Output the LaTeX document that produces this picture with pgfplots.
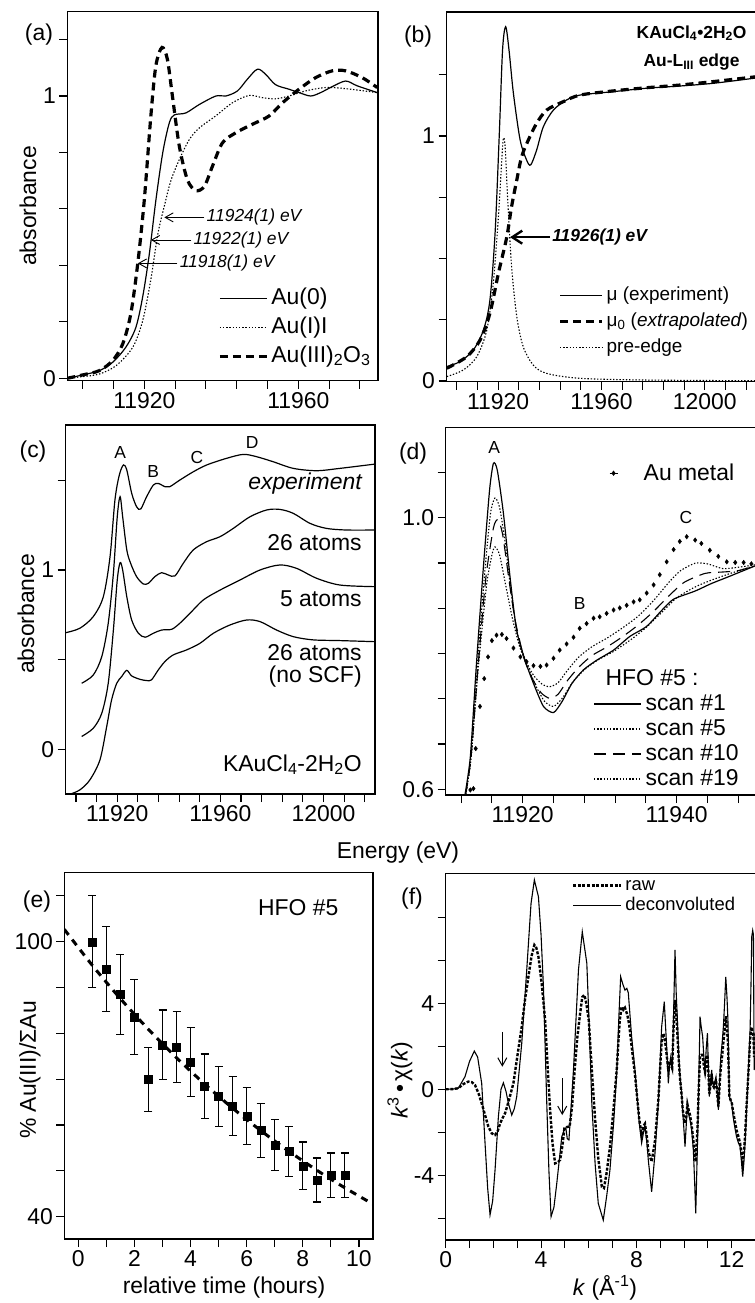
\documentclass[border=0pt]{standalone}
\usepackage{fontspec}
\setmainfont{Liberation Sans}
\usepackage{pgfplots}
\pgfplotsset{compat=1.18}
\usetikzlibrary{arrows.meta}
\newcommand\fA{\fontsize{23}{26}\selectfont}
\newcommand\fB{\fontsize{19}{22}\selectfont}
\newcommand\fC{\fontsize{17.5}{20}\selectfont}
\pgfplotsset{
 panel/.style={scale only axis, clip mode=individual, anchor=north west,
   scaled x ticks=false, scaled y ticks=false,
   axis line style={line width=1.2bp},
   tick pos=left, tick align=outside,
   major tick length=8bp, minor tick length=8bp,
   tick style={black, line width=1.1bp},
   minor tick style={black, line width=1.1bp},
   tick label style={font=\fA},
   legend cell align=left},
 sol/.style={black, line width=1.2bp},
 dotl/.style={black, line width=1.1bp, dash pattern=on 1.4bp off 1.8bp},
 thd/.style={black, line width=3.2bp, dash pattern=on 8bp off 5bp},
 limg/.style={legend image code/.code={\draw[##1] (0bp,0bp) -- (#1,0bp);}},
}
\begin{document}
\begin{tikzpicture}
\useasboundingbox (0,0) rectangle (755bp,-1303bp);
% ---------------- (a)
\begin{axis}[panel, at={(67.3bp,-11.7bp)}, width=310.7bp, height=368.8bp,
 xmin=11900, xmax=11980.7, ymin=-0.0078, ymax=1.2986,
 xtick={11920,11960}, xticklabels={11920,11960},
 minor xtick={11904,11912,11928,11936,11944,11952,11968,11976},
 ytick={0,1}, yticklabels={0,1}, minor ytick={0.2,0.4,0.6,0.8,1.2},
 limg=47bp,
 legend style={at={(0.485,0.254)}, anchor=north west, draw=none, fill=none, font=\fA,
   inner sep=0pt, row sep=6bp, column sep=3bp, nodes={inner sep=0bp, text height=17bp, text depth=6bp}}]
\addplot[sol, smooth] coordinates {(11900,0) (11904,0.012) (11908.3,0.027) (11911.8,0.057) (11915.2,0.11) (11917.8,0.18) (11919.6,0.29) (11921.3,0.44) (11923.0,0.63) (11924.8,0.80) (11926.5,0.905) (11927.8,0.933) (11930.8,0.94) (11934.3,0.97) (11938.6,1.0) (11941.2,1.0) (11944.2,1.018) (11946.8,1.06) (11949.4,1.095) (11951.5,1.077) (11954.1,1.04) (11957.6,1.024) (11960.2,1.012) (11963.2,1.0) (11965.8,1.012) (11968.8,1.033) (11972.3,1.053) (11975.3,1.036) (11980.5,1.012)};
\addlegendentry{Au(0)}
\addplot[dotl, smooth] coordinates {(11900,0) (11904,0.006) (11908.3,0.015) (11912.7,0.045) (11917.0,0.11) (11919.6,0.205) (11921.7,0.35) (11923.5,0.51) (11925.2,0.61) (11926.9,0.70) (11929.1,0.775) (11931.7,0.846) (11934.3,0.887) (11938.6,0.93) (11942.9,0.976) (11947.2,1.002) (11950.7,0.994) (11954.1,0.99) (11957.6,1.0) (11961.9,1.018) (11967.1,1.03) (11972.3,1.026) (11980.5,1.012)};
\addlegendentry{Au(I)I}
\addplot[thd, smooth] coordinates {(11900,0) (11904,0.012) (11908.3,0.027) (11911.8,0.063) (11914.4,0.122) (11916.5,0.229) (11918.3,0.407) (11920.0,0.632) (11921.7,0.929) (11923.0,1.107) (11924.6,1.172) (11926.0,1.13) (11927.3,1.0) (11929.1,0.822) (11931.2,0.703) (11933.4,0.665) (11935.6,0.68) (11937.7,0.751) (11940.3,0.834) (11943.8,0.87) (11948.1,0.90) (11952.4,0.929) (11955.9,0.976) (11960.2,1.024) (11964.5,1.065) (11968.8,1.089) (11972.3,1.089) (11976.6,1.065) (11980.5,1.03)};
\addlegendentry{Au(III)\textsubscript{2}O\textsubscript{3}}
\draw[line width=0.9bp, -{Straight Barb[length=8bp,width=9bp]}] (axis cs:11935.6,0.570) -- (axis cs:11925.2,0.570);
\node[anchor=west, font=\fC\itshape, inner sep=1bp] at (axis cs:11935.9,0.570) {11924(1) eV};
\draw[line width=0.9bp, -{Straight Barb[length=8bp,width=9bp]}] (axis cs:11932.2,0.49) -- (axis cs:11921.7,0.49);
\node[anchor=west, font=\fC\itshape, inner sep=1bp] at (axis cs:11932.5,0.49) {11922(1) eV};
\draw[line width=0.9bp, -{Straight Barb[length=8bp,width=9bp]}] (axis cs:11928.6,0.407) -- (axis cs:11918.3,0.407);
\node[anchor=west, font=\fC\itshape, inner sep=1bp] at (axis cs:11928.9,0.407) {11918(1) eV};
\end{axis}
% ---------------- (b)
\begin{axis}[panel, at={(446.5bp,-12bp)}, width=310.5bp, height=369.5bp,
 xmin=11900, xmax=12020.2, ymin=-0.002, ymax=1.506,
 xtick={11920,11960,12000}, xticklabels={11920,11960,12000},
 minor xtick={11904,11912,11928,11936,11944,11952,11968,11976,11984,11992,12008,12016},
 ytick={0,1}, yticklabels={0,1}, minor ytick={0.25,0.5,0.75,1.25},
 limg=42bp,
 legend style={at={(0.36,0.259)}, anchor=north west, draw=none, fill=none, font=\fB,
   inner sep=0pt, row sep=7bp, column sep=3bp, nodes={inner sep=0bp, text height=14bp, text depth=5bp}}]
\addplot[sol, smooth] coordinates {(11900.1,0.059) (11905.2,0.079) (11910.4,0.127) (11914.3,0.208) (11916.8,0.33) (11918.8,0.603) (11920.45,1.011) (11921.7,1.351) (11922.9,1.446) (11924.2,1.351) (11925.9,1.174) (11928.5,0.984) (11931.0,0.902) (11932.6,0.882) (11934.9,0.943) (11937.5,1.038) (11941.4,1.106) (11946.5,1.147) (11951.7,1.167) (11964.6,1.181) (11977.5,1.195) (11990.4,1.204) (12003.3,1.215) (12020,1.237)};
\addlegendentry{μ (experiment)}
\addplot[thd, smooth] coordinates {(11900.1,0.052) (11907.8,0.099) (11913.0,0.167) (11916.8,0.276) (11920.1,0.44) (11923.3,0.586) (11925.2,0.712) (11927.2,0.82) (11929.1,0.916) (11931.7,0.984) (11934.9,1.052) (11938.8,1.106) (11945.2,1.14) (11951.7,1.167) (11964.6,1.184) (11977.5,1.197) (11990.4,1.208) (12003.3,1.222) (12020,1.242)};
\addlegendentry{μ\textsubscript{0} (\textit{extrapolated})}
\addplot[dotl, smooth] coordinates {(11900.1,0.018) (11906.5,0.045) (11911.7,0.099) (11915.6,0.208) (11918.1,0.399) (11920.1,0.671) (11921.4,0.902) (11922.0,0.99) (11922.7,0.956) (11923.7,0.739) (11925.2,0.467) (11927.2,0.263) (11929.7,0.14) (11933.6,0.065) (11938.8,0.031) (11951.7,0.011) (11977.5,0.004) (12020,0.001)};
\addlegendentry{pre-edge}
\draw[line width=2.4bp, -{Straight Barb[length=10bp,width=13bp]}] (axis cs:11940.1,0.587) -- (axis cs:11924.6,0.587);
\node[anchor=west, font=\fC\bfseries\itshape, inner sep=1bp] at (axis cs:11940.5,0.587) {11926(1) eV};
\end{axis}
% ---------------- (c)
\begin{axis}[panel, at={(65.7bp,-425bp)}, width=309.3bp, height=369bp,
 xmin=11900, xmax=12020, ymin=-0.25, ymax=1.809,
 xtick={11920,11960,12000}, xticklabels={11920,11960,12000},
 minor xtick={11904,11912,11928,11936,11944,11952,11968,11976,11984,11992,12008,12016},
 ytick={0,1}, yticklabels={0,1}, minor ytick={0.5,1.5}]
\addplot[sol, smooth] coordinates {(11900.0,0.65) (11905.5,0.675) (11910.7,0.74) (11914.6,0.851) (11917.2,1.074) (11919.1,1.39) (11920.8,1.53) (11922.4,1.586) (11923.7,1.558) (11925.6,1.428) (11927.5,1.353) (11929.1,1.34) (11931.4,1.409) (11934.0,1.474) (11935.9,1.483) (11938.5,1.465) (11940.4,1.465) (11944.3,1.502) (11949.5,1.548) (11954.7,1.586) (11962.4,1.623) (11968.9,1.645) (11974.1,1.632) (11980.5,1.604) (11988.3,1.567) (11997.3,1.554) (12006.4,1.567) (12020.0,1.591)};
\addplot[sol, smooth] coordinates {(11906.2,0.368) (11910.7,0.414) (11914.0,0.517) (11916.5,0.703) (11918.5,0.981) (11920.0,1.297) (11921.1,1.409) (11922.1,1.297) (11923.7,1.112) (11925.2,1.037) (11927.5,0.963) (11930.1,0.922) (11932.1,0.926) (11934.6,0.963) (11937.2,0.985) (11939.8,0.972) (11942.4,0.967) (11945.6,1.037) (11949.5,1.112) (11954.7,1.158) (11959.9,1.186) (11965.0,1.232) (11971.5,1.297) (11978.0,1.335) (11983.1,1.338) (11988.3,1.316) (11994.8,1.26) (12001.2,1.232) (12009.0,1.223) (12020.0,1.223)};
\addplot[sol, smooth] coordinates {(11906.2,0.071) (11910.7,0.117) (11914.0,0.201) (11916.5,0.368) (11918.5,0.665) (11920.0,0.944) (11921.1,1.041) (11922.1,1.0) (11923.7,0.851) (11925.6,0.721) (11928.2,0.647) (11930.8,0.625) (11934.0,0.647) (11937.2,0.665) (11941.1,0.669) (11944.3,0.703) (11948.2,0.758) (11953.4,0.833) (11959.9,0.888) (11967.6,0.944) (11975.4,1.0) (11983.1,1.028) (11989.6,1.009) (11997.3,0.954) (12006.4,0.916) (12020.0,0.907)};
\addplot[sol, smooth] coordinates {(11901.7,-0.251) (11905.5,-0.227) (11909.4,-0.171) (11913.3,-0.059) (11915.9,0.126) (11917.8,0.275) (11919.8,0.368) (11921.7,0.405) (11923.7,0.44) (11925.6,0.409) (11928.8,0.390) (11931.4,0.383) (11933.3,0.387) (11935.9,0.442) (11938.5,0.489) (11941.7,0.526) (11946.9,0.554) (11952.1,0.591) (11957.3,0.647) (11963.7,0.693) (11970.2,0.721) (11975.4,0.712) (11981.8,0.665) (11988.3,0.628) (11996.0,0.61) (12006.4,0.606) (12020.0,0.6)};
\node[font=\fC] at (axis cs:11921.1,1.657) {A};
\node[font=\fC] at (axis cs:11933.9,1.547) {B};
\node[font=\fC] at (axis cs:11950.9,1.625) {C};
\node[font=\fC] at (axis cs:11972.3,1.709) {D};
\node[anchor=east, font=\fA\itshape, inner sep=0pt] at (axis cs:12014.9,1.48) {experiment};
\node[anchor=east, font=\fA, inner sep=0pt] at (axis cs:12014.9,1.15) {26 atoms};
\node[anchor=east, font=\fA, inner sep=0pt] at (axis cs:12014.9,0.838) {5 atoms};
\node[anchor=east, font=\fA, inner sep=0pt, align=right] at (axis cs:12014.9,0.465) {26 atoms\\[-3bp](no SCF)};
\node[anchor=east, font=\fA, inner sep=0pt] at (axis cs:12014.9,-0.087) {KAuCl\textsubscript{4}-2H\textsubscript{2}O};
\end{axis}
% ---------------- (d)
\begin{axis}[panel, at={(445.7bp,-427.7bp)}, width=311.3bp, height=367.3bp,
 xmin=11910, xmax=11950.43, ymin=0.5916, ymax=1.1325,
 xtick={11920,11940}, xticklabels={11920,11940},
 minor xtick={11912,11916,11924,11928,11932,11936,11944,11948},
 ytick={0.6,1.0}, yticklabels={0.6,1.0}, minor ytick={0.66667,0.73333,0.8,0.86667,0.93333,1.06667},
 limg=47bp,
 legend style={at={(0.474,0.277)}, anchor=north west, draw=none, fill=none, font=\fA,
   inner sep=0pt, row sep=4bp, column sep=4bp, nodes={inner sep=0bp, text height=17bp, text depth=4bp}}]
\addplot[sol, smooth, tension=0.4] coordinates {(11912.5,0.592) (11913.2,0.648) (11914.0,0.786) (11914.9,0.928) (11915.7,1.041) (11916.2,1.080) (11916.7,1.07) (11917.5,1.006) (11918.4,0.908) (11919.2,0.835) (11920.3,0.79) (11921.4,0.756) (11922.7,0.722) (11924.0,0.713) (11925.1,0.729) (11926.4,0.756) (11927.9,0.776) (11929.6,0.79) (11931.8,0.805) (11933.9,0.825) (11936.1,0.84) (11938.1,0.864) (11939.6,0.88) (11942.4,0.892) (11944.5,0.903) (11946.5,0.912) (11950.4,0.93)};
\addlegendentry{scan \#1}
\addplot[dotl, smooth, tension=0.4] coordinates {(11912.6,0.592) (11913.3,0.648) (11914.1,0.78) (11915.0,0.91) (11915.8,1.005) (11916.4,1.029) (11917.0,1.015) (11917.7,0.965) (11918.5,0.89) (11919.3,0.83) (11920.3,0.792) (11921.4,0.768) (11922.5,0.755) (11923.5,0.751) (11924.6,0.757) (11925.8,0.775) (11927.3,0.795) (11929.0,0.81) (11931.0,0.823) (11933.0,0.838) (11935.0,0.855) (11937.0,0.878) (11939.0,0.905) (11940.5,0.922) (11942.4,0.933) (11944.0,0.932) (11946.0,0.925) (11948.0,0.927) (11950.4,0.931)};
\addlegendentry{scan \#5}
\addplot[black, line width=1.1bp, dash pattern=on 12bp off 7bp, smooth, tension=0.4] coordinates {(11912.6,0.592) (11913.3,0.648) (11914.2,0.78) (11915.2,0.91) (11916.2,0.985) (11916.8,0.997) (11917.4,0.975) (11918.2,0.91) (11919.0,0.85) (11920.2,0.792) (11921.3,0.762) (11922.4,0.742) (11923.5,0.734) (11924.6,0.74) (11925.8,0.76) (11927.3,0.78) (11929.0,0.797) (11931.0,0.81) (11933.0,0.825) (11935.0,0.842) (11937.0,0.862) (11939.0,0.885) (11941.0,0.905) (11943.7,0.918) (11946.0,0.92) (11948.0,0.922) (11950.4,0.93)};
\addlegendentry{scan \#10}
\addplot[dotl, smooth, tension=0.4] coordinates {(11912.6,0.592) (11913.3,0.648) (11914.2,0.775) (11915.3,0.9) (11916.0,0.945) (11916.4,0.957) (11917.0,0.945) (11917.8,0.9) (11918.7,0.85) (11919.6,0.81) (11920.5,0.785) (11921.6,0.755) (11922.8,0.73) (11924.0,0.722) (11925.2,0.735) (11926.5,0.758) (11928.0,0.776) (11929.7,0.79) (11931.8,0.803) (11934.0,0.82) (11936.0,0.838) (11938.0,0.86) (11940.0,0.882) (11942.4,0.898) (11944.5,0.908) (11947.0,0.918) (11950.4,0.93)};
\addlegendentry{scan \#19}
\addplot[black, only marks, mark=diamond*, mark size=2.3bp, forget plot] coordinates {(11913.2,0.599) (11913.6,0.601) (11913.9,0.66) (11914.45,0.722) (11915.0,0.763) (11915.5,0.795) (11916.0,0.819) (11916.6,0.827) (11917.3,0.828) (11917.9,0.822) (11918.8,0.808) (11919.7,0.795) (11920.5,0.788) (11921.4,0.782) (11922.3,0.781) (11923.1,0.783) (11924.0,0.793) (11924.8,0.805) (11925.7,0.814) (11926.6,0.824) (11927.4,0.837) (11928.3,0.844) (11929.2,0.852) (11930.0,0.854) (11930.9,0.859) (11931.8,0.864) (11932.6,0.867) (11933.5,0.871) (11934.4,0.876) (11935.2,0.879) (11936.1,0.889) (11937.0,0.901) (11937.8,0.916) (11938.7,0.935) (11939.6,0.953) (11940.4,0.965) (11941.3,0.972) (11942.4,0.967) (11943.2,0.962) (11944.3,0.952) (11945.4,0.943) (11946.5,0.935) (11947.6,0.934) (11948.7,0.934) (11949.7,0.932)};
\node[font=\fC] at (axis cs:11916.3,1.103) {A};
\node[font=\fC] at (axis cs:11927.4,0.874) {B};
\node[font=\fC] at (axis cs:11941.2,0.9996) {C};
\node[anchor=west, font=\fA, inner sep=0pt] at (axis cs:11930.75,0.764) {HFO \#5 :};
\end{axis}
\begin{axis}[panel, hide axis, at={(445.7bp,-427.7bp)}, width=311.3bp, height=367.3bp,
 xmin=11910, xmax=11950.43, ymin=0.5916, ymax=1.1325,
 legend image code/.code={\path (-4bp,0bp) -- (4bp,0bp); \draw[#1] plot coordinates {(0bp,0bp)};},
 legend style={at={(0.525,0.876)}, anchor=west, draw=none, fill=none, font=\fA,
   inner sep=0pt, column sep=26bp, nodes={inner sep=0bp}}]
\addlegendimage{black, only marks, mark=diamond*, mark size=2.3bp}
\addlegendentry{Au metal}
\end{axis}
% ---------------- (e)
\begin{axis}[panel, at={(64.3bp,-872.3bp)}, width=308.7bp, height=366.7bp,
 xmin=-0.5, xmax=10.5, ymin=35.13, ymax=115.14,
 xtick={0,2,4,6,8,10}, xticklabels={0,2,4,6,8,10},
 minor xtick={1,3,5,7,9},
 ytick={40,100}, yticklabels={40,100}, minor ytick={50,60,70,80,90,110}]
\addplot[black, line width=3bp, dash pattern=on 7bp off 6bp, smooth] coordinates {(-0.5,102.7) (0.5,94.83) (1.5,87.57) (2.5,80.86) (3.5,74.67) (4.5,68.95) (5.5,63.67) (6.5,58.79) (7.5,54.29) (8.5,50.13) (9.5,46.29) (10.5,42.75)};
\addplot[black, only marks, mark=square*, mark size=4bp,
  error bars/.cd, y dir=both, y explicit,
  error bar style={line width=1.1bp, black},
  error mark options={rotate=90, mark size=4bp, line width=1.1bp, black}]
 coordinates {(0.5,100) +- (0,10) (1,94) +- (0,9.3) (1.5,88.5) +- (0,8.8) (2,83.5) +- (0,8.2) (2.5,70) +- (0,7) (3,77.5) +- (0,7.6) (3.5,77) +- (0,7.7) (4,73.8) +- (0,7.5) (4.5,68.5) +- (0,7) (5,66.2) +- (0,6.6) (5.5,64.1) +- (0,6.4) (6,62) +- (0,6.2) (6.5,58.8) +- (0,5.9) (7,55.6) +- (0,5.6) (7.5,54.2) +- (0,5.5) (8,51.1) +- (0,5.2) (8.5,48) +- (0,4.8) (9,49) +- (0,4.9) (9.5,49) +- (0,4.9)};
\node[anchor=west, font=\fA, inner sep=0pt] at (axis cs:6.4,107.35) {HFO \#5};
\end{axis}
% ---------------- (f)
\begin{axis}[panel, at={(445.7bp,-873.3bp)}, width=311.3bp, height=366.7bp,
 xmin=0, xmax=13.06, ymin=-7.02, ymax=10.06,
 xtick={0,4,8,12}, xticklabels={0,4,8,12},
 minor xtick={1,2,3,5,6,7,9,10,11,13},
 ytick={-4,0,4}, yticklabels={-4,0,4}, minor ytick={-6,-2,2,6,8},
 limg=48bp,
 legend style={at={(0.405,0.99)}, anchor=north west, draw=none, fill=none, font=\fontsize{18.5}{20}\selectfont,
   inner sep=0pt, row sep=3bp, column sep=3bp, nodes={inner sep=0bp, text height=13.5bp, text depth=3.5bp}}]
\addplot[black, line width=2.4bp, dash pattern=on 3bp off 1.6bp] coordinates {(0,0) (0.3,0.01) (0.53,0.05) (0.75,0.25) (0.95,0.36) (1.1,0.33) (1.23,0.2) (1.38,-0.2) (1.51,-0.65) (1.65,-1.2) (1.79,-1.74) (1.93,-2.05) (2.07,-2.13) (2.18,-1.95) (2.28,-1.6) (2.38,-1.35) (2.49,-1.12) (2.63,-0.6) (2.84,0.28) (3.0,1.5) (3.19,2.92) (3.33,4.2) (3.47,5.24) (3.6,6.2) (3.72,6.72) (3.8,6.6) (3.89,6.18) (4.03,4.9) (4.17,3.23) (4.28,1.0) (4.38,-0.96) (4.48,-2.5) (4.59,-3.45) (4.7,-3.4) (4.8,-3.29) (4.9,-2.6) (4.98,-1.82) (5.1,-1.75) (5.2,-1.74) (5.3,-0.8) (5.41,0.9) (5.52,2.4) (5.64,3.54) (5.73,4.3) (5.82,4.39) (5.9,4.0) (6.0,3.23) (6.13,0.9) (6.27,-1.43) (6.4,-3.2) (6.55,-4.54) (6.64,-4.6) (6.75,-3.9) (6.89,-2.7) (7.05,-0.8) (7.18,1.0) (7.3,3.2) (7.38,3.85) (7.45,3.7) (7.52,3.8) (7.62,3.46) (7.7,3.0) (7.8,2.0) (7.94,0.7) (8.05,-0.6) (8.12,-1.4) (8.22,-2.1) (8.3,-1.7) (8.36,-1.6) (8.45,-2.3) (8.5,-2.9) (8.64,-3.37) (8.78,-2.4) (8.92,-0.5) (9.06,2.2) (9.13,2.6) (9.2,2.3) (9.27,1.6) (9.34,0.9) (9.42,1.3) (9.5,1.0) (9.56,2.9) (9.62,4.16) (9.67,3.6) (9.72,2.6) (9.78,1.3) (9.83,0.5) (9.9,-0.3) (9.94,-0.9) (10.0,-1.4) (10.04,-1.58) (10.1,-1.2) (10.14,-0.7) (10.2,-1.0) (10.25,-1.2) (10.32,-1.7) (10.39,-2.4) (10.45,-3.1) (10.49,-3.37) (10.53,-2.5) (10.57,-1.6) (10.62,0.2) (10.67,1.52) (10.72,1.6) (10.78,1.6) (10.83,1.1) (10.88,0.8) (10.93,1.2) (10.98,1.6) (11.02,0.8) (11.06,-0.2) (11.11,0.2) (11.16,0.7) (11.2,0.2) (11.25,0.1) (11.3,0.3) (11.34,0.4) (11.39,-0.2) (11.44,-0.8) (11.49,0.2) (11.54,1.0) (11.6,1.6) (11.65,2.2) (11.7,2.8) (11.75,3.4) (11.8,2.8) (11.84,2.2) (11.87,1.0) (11.9,-0.3) (11.95,-0.5) (12.0,-0.6) (12.05,-1.0) (12.1,-1.3) (12.15,-1.6) (12.2,-1.9) (12.28,-2.2) (12.35,-2.5) (12.41,-3.0) (12.46,-3.4) (12.51,-2.9) (12.56,-2.2) (12.61,-1.0) (12.66,0.0) (12.72,1.2) (12.77,2.3) (12.81,2.8) (12.84,2.9) (12.88,2.6) (12.91,2.5) (12.94,1.5) (13.0,2.5) (13.06,3.0)};
\addlegendentry{raw}
\addplot[black, line width=1.1bp] coordinates {(0,0) (0.3,0.01) (0.53,0.05) (0.81,0.59) (1.0,1.3) (1.2,1.78) (1.34,1.5) (1.51,0.28) (1.65,-2.5) (1.76,-4.6) (1.86,-5.85) (1.97,-5.2) (2.07,-3.76) (2.21,-1.28) (2.32,0.0) (2.42,0.3) (2.53,-0.1) (2.63,-0.65) (2.77,-1.2) (2.88,-0.9) (2.98,-0.34) (3.19,2.14) (3.4,5.56) (3.58,8.66) (3.72,9.75) (3.89,8.97) (4.0,7.2) (4.1,4.78) (4.24,-0.65) (4.33,-3.8) (4.42,-5.93) (4.54,-5.5) (4.66,-4.38) (4.87,-2.21) (4.97,-1.9) (5.04,-1.8) (5.1,-2.3) (5.17,-2.36) (5.25,-1.0) (5.36,0.9) (5.57,5.56) (5.73,7.34) (5.92,5.87) (6.02,3.0) (6.13,-0.65) (6.27,-3.5) (6.4,-5.31) (6.61,-6.09) (6.75,-5.0) (6.89,-3.76) (7.05,-1.5) (7.18,0.9) (7.27,3.5) (7.34,5.24) (7.43,4.9) (7.52,4.62) (7.6,4.7) (7.66,4.5) (7.8,2.45) (7.94,0.9) (8.05,-0.6) (8.12,-1.58) (8.22,-2.5) (8.3,-2.0) (8.36,-1.74) (8.45,-2.6) (8.5,-3.3) (8.64,-4.77) (8.78,-2.98) (8.92,-0.65) (9.06,2.92) (9.17,4.08) (9.22,3.0) (9.27,2.0) (9.34,0.28) (9.4,1.2) (9.44,1.5) (9.5,0.9) (9.56,3.5) (9.62,6.49) (9.67,4.5) (9.72,3.23) (9.78,1.5) (9.83,0.59) (9.9,-0.2) (9.94,-0.96) (9.99,-1.8) (10.04,-2.67) (10.1,-1.5) (10.14,-0.8) (10.2,-1.2) (10.25,-1.43) (10.32,-1.9) (10.39,-2.83) (10.45,-4.5) (10.49,-5.78) (10.53,-4.0) (10.57,-2.2) (10.62,0.5) (10.67,3.38) (10.72,2.9) (10.78,2.45) (10.83,1.5) (10.88,0.9) (10.93,1.9) (10.98,2.61) (11.02,1.0) (11.06,-0.34) (11.11,0.4) (11.16,0.9) (11.2,0.3) (11.25,0.12) (11.3,0.4) (11.34,0.59) (11.39,-0.1) (11.44,-0.96) (11.49,0.3) (11.54,1.5) (11.6,2.2) (11.65,2.92) (11.7,4.0) (11.75,5.24) (11.8,4.3) (11.84,3.23) (11.87,1.5) (11.9,-0.34) (11.95,-0.5) (12.0,-0.65) (12.05,-1.2) (12.1,-1.58) (12.15,-1.9) (12.2,-2.2) (12.28,-2.5) (12.35,-2.67) (12.41,-3.4) (12.46,-4.07) (12.51,-3.4) (12.56,-2.51) (12.61,-1.3) (12.66,-0.03) (12.72,1.5) (12.77,2.76) (12.81,5.0) (12.84,7.11) (12.88,7.4) (12.91,7.2) (12.94,0.9) (13.0,1.5) (13.06,2.0)};
\addlegendentry{deconvoluted}
\draw[line width=1bp, -{Straight Barb[length=8bp,width=9bp]}] (axis cs:2.375,2.68) -- (axis cs:2.375,1.05);
\draw[line width=1bp, -{Straight Barb[length=8bp,width=9bp]}] (axis cs:4.89,0.51) -- (axis cs:4.89,-1.2);
\end{axis}
% ---------------- free text
\node[font=\fA, rotate=90] at (28bp,-206bp) {absorbance};
\node[font=\fA, rotate=90] at (26bp,-614bp) {absorbance};
\node[font=\fA, rotate=90] at (30bp,-1070bp) {\% Au(III)/ΣAu};
\node[font=\fA, rotate=90] at (400bp,-1080bp) {\textit{k}\textsuperscript{3}\,•\,χ(\textit{k})};
\node[font=\fA] at (398bp,-853bp) {Energy (eV)};
\node[font=\fA] at (224bp,-1288bp) {relative time (hours)};
\node[font=\fA] at (605bp,-1288bp) {\textit{k} (Å\textsuperscript{-1})};
\node[font=\fA] at (39bp,-35bp) {(a)};
\node[font=\fA] at (418bp,-37bp) {(b)};
\node[font=\fA] at (33bp,-452bp) {(c)};
\node[font=\fA] at (413bp,-454bp) {(d)};
\node[font=\fA] at (37bp,-902bp) {(e)};
\node[font=\fA] at (412bp,-899bp) {(f)};
\node[font=\fC\bfseries, anchor=east] at (750bp,-33bp) {KAuCl\textsubscript{4}•2H\textsubscript{2}O};
\node[font=\fC\bfseries, anchor=east] at (743bp,-62bp) {Au-L\textsubscript{III} edge};
\end{tikzpicture}
\end{document}
